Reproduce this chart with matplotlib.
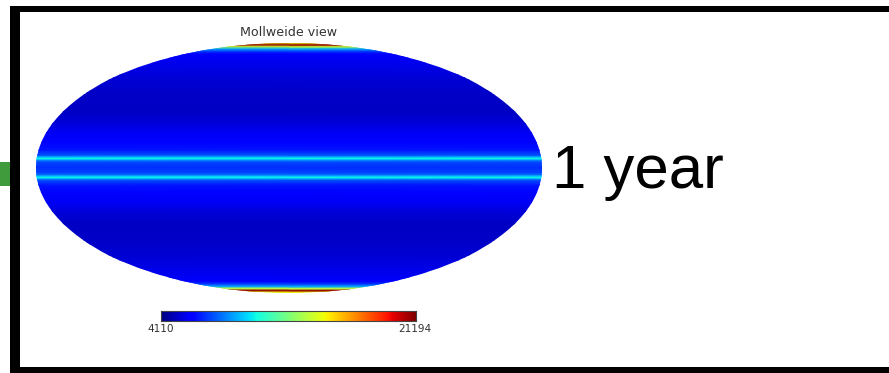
import numpy as np
import matplotlib
matplotlib.use("Agg")
import matplotlib.pyplot as plt
from matplotlib.patches import Ellipse, Rectangle

W, H = 889, 373

# Map values by normalised latitude position (Mollweide y, north to south)
lat_positions = [1.00, 0.982, 0.968, 0.95, 0.93, 0.91, 0.88, 0.72, 0.60, 0.45, 0.35, 0.28, 0.20,
                 0.14, 0.10, 0.085, 0.076, 0.066, 0.055, 0.04, 0.00]
map_values = [15000, 20800, 14000, 9000, 7200, 6300, 5900, 5400, 5200, 5150, 5450, 5900, 6000,
              6600, 7600, 9400, 10400, 9400, 8000, 7400, 7000]
map_min, map_max = 4110, 21194
title_text = "Mollweide view"
side_label = "1 year"
cbar_labels = ["4110", "21194"]


def axes_px(x0, y0, x1, y1, **kw):
    return fig.add_axes([x0 / W, 1 - y1 / H, (x1 - x0) / W, (y1 - y0) / H], **kw)


fig = plt.figure(figsize=(W / 100, H / 100), dpi=100, facecolor="white")

# Frame and green stub
fig.add_artist(Rectangle((0, 1 - 186 / H), 10 / W, 24 / H, transform=fig.transFigure,
                         facecolor="#3f9b3c", edgecolor="none", zorder=-3))
fig.add_artist(Rectangle((10 / W, 0), (W - 10) / W, 1 - 6 / H, transform=fig.transFigure,
                         facecolor="black", edgecolor="none", zorder=-2))
fig.add_artist(Rectangle((20 / W, 6 / H), (W - 20) / W, 1 - 12 / H - 6 / H, transform=fig.transFigure,
                         facecolor="white", edgecolor="none", zorder=-1))

# Map
ax = axes_px(36, 42.5, 542, 292.5)
ax.patch.set_alpha(0)
ax.set_xlim(-2, 2)
ax.set_ylim(-1, 1)
ax.axis("off")
north = np.array(lat_positions)
vals = np.array(map_values, dtype=float)
lat = np.concatenate([north, -north[-2::-1]])
prof = np.concatenate([vals, vals[-2::-1]])
order = np.argsort(lat)
lat, prof = lat[order], prof[order]
xx, yy = np.meshgrid(np.array([-2.0, 2.0]), lat)
zz = np.column_stack([prof, prof])
mesh = ax.pcolormesh(xx, yy, zz, cmap="jet", vmin=map_min, vmax=map_max, shading="gouraud",
                     rasterized=True)
mesh.set_clip_path(Ellipse((0, 0), 4, 2, transform=ax.transData))

# Colour bar
cax = axes_px(161, 310.5, 416, 321)
cax.pcolormesh(np.linspace(map_min, map_max, 257), [0, 1],
               np.linspace(map_min, map_max, 256)[None, :], cmap="jet",
               vmin=map_min, vmax=map_max)
cax.set_xticks([])
cax.set_yticks([])
for s in cax.spines.values():
    s.set_linewidth(0.8)
    s.set_color("#444444")

col = "#333333"
fig.text(289 / W, 1 - 32 / H, title_text, ha="center", va="center", fontsize=9.1,
         color=col, family="DejaVu Sans")
fig.text(160.5 / W, 1 - 329 / H, cbar_labels[0], ha="center", va="center", fontsize=7.6,
         color=col, family="DejaVu Sans")
fig.text(415 / W, 1 - 329 / H, cbar_labels[1], ha="center", va="center", fontsize=7.6,
         color=col, family="DejaVu Sans")
fig.text(552 / W, 1 - 188 / H, side_label, ha="left", va="baseline", fontsize=44.5,
         color="black", family="Liberation Sans")

fig.savefig("out.png", dpi=100, facecolor="white")
